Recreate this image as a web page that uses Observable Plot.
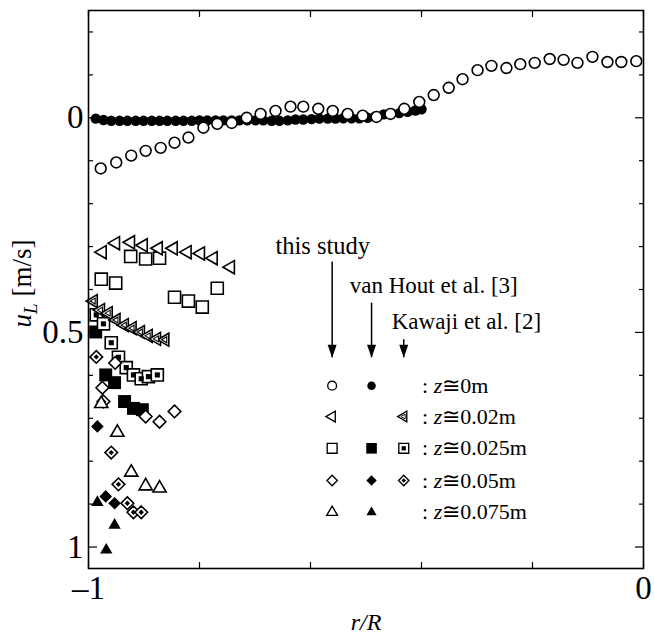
<!DOCTYPE html>
<html><head><meta charset="utf-8">
<script src="https://cdn.jsdelivr.net/npm/d3@7"></script>
<script src="https://cdn.jsdelivr.net/npm/@observablehq/plot@0.6"></script>
<style>body{margin:0;background:#fff}#chart{width:654px;height:639px}</style>
</head><body><div id="chart"></div>
<script>
// ---------- data ----------
const studyZ0_r = [-0.978,-0.950,-0.923,-0.897,-0.870,-0.845,-0.820,-0.793,-0.768,-0.742,-0.715,-0.690,-0.663,-0.636,-0.613,-0.586,-0.560,-0.533,-0.506,-0.481,-0.456,-0.431,-0.404,-0.378,-0.351,-0.326,-0.299,-0.274,-0.247,-0.222,-0.196,-0.169,-0.144,-0.119,-0.092,-0.065,-0.040,-0.013];
const studyZ0_u = [0.118,0.104,0.088,0.077,0.070,0.058,0.046,0.023,0.014,0.012,0.000,-0.009,-0.016,-0.026,-0.026,-0.021,-0.016,-0.009,-0.005,-0.002,-0.009,-0.021,-0.037,-0.053,-0.070,-0.090,-0.111,-0.121,-0.116,-0.125,-0.128,-0.137,-0.135,-0.128,-0.142,-0.130,-0.130,-0.132];
const vanHoutZ0_r = [-0.987,-0.973,-0.959,-0.944,-0.930,-0.915,-0.901,-0.886,-0.872,-0.858,-0.843,-0.829,-0.814,-0.800,-0.786,-0.771,-0.757,-0.742,-0.728,-0.714,-0.699,-0.685,-0.670,-0.656,-0.641,-0.627,-0.613,-0.598,-0.584,-0.569,-0.555,-0.541,-0.526,-0.512,-0.497,-0.483,-0.468,-0.454,-0.440,-0.425,-0.411,-0.400];
const vanHoutZ0_u = [0.002,0.005,0.007,0.007,0.007,0.007,0.007,0.007,0.007,0.007,0.007,0.007,0.007,0.006,0.006,0.006,0.006,0.006,0.006,0.006,0.006,0.006,0.007,0.007,0.006,0.004,0.004,0.003,0.002,0.002,0.002,0.001,0.001,0.001,0.000,-0.003,-0.008,-0.010,-0.011,-0.014,-0.017,-0.020];
const studyZ02_r = [-0.975,-0.951,-0.924,-0.901,-0.874,-0.847,-0.822,-0.798,-0.775,-0.744];
const studyZ02_u = [0.313,0.292,0.290,0.297,0.304,0.304,0.313,0.316,0.327,0.348];
const kawajiZ02_r = [-0.991,-0.978,-0.964,-0.950,-0.935,-0.921,-0.906,-0.892,-0.877,-0.862];
const kawajiZ02_u = [0.427,0.448,0.455,0.471,0.483,0.490,0.499,0.508,0.515,0.517];
const studyZ025_r = [-0.977,-0.951,-0.924,-0.897,-0.872,-0.845,-0.820,-0.795,-0.768];
const studyZ025_u = [0.376,0.385,0.323,0.329,0.327,0.418,0.427,0.441,0.397];
const vanHoutZ025_r = [-0.987,-0.969,-0.953,-0.935,-0.919,-0.903];
const vanHoutZ025_u = [0.499,0.599,0.617,0.661,0.677,0.680];
const kawajiZ025_r = [-0.986,-0.973,-0.959,-0.946,-0.932,-0.919,-0.905,-0.892,-0.876];
const kawajiZ025_u = [0.459,0.480,0.524,0.558,0.582,0.599,0.608,0.603,0.599];
const studyZ05_r = [-0.975,-0.952,-0.897,-0.872,-0.845];
const studyZ05_u = [0.629,0.571,0.696,0.708,0.684];
const vanHoutZ05_r = [-0.984,-0.969,-0.953];
const vanHoutZ05_u = [0.719,0.882,0.898];
const kawajiZ05_r = [-0.986,-0.973,-0.959,-0.946,-0.930,-0.919,-0.905];
const kawajiZ05_u = [0.557,0.661,0.780,0.854,0.898,0.919,0.919];
const studyZ075_r = [-0.977,-0.948,-0.923,-0.897,-0.872];
const studyZ075_u = [0.666,0.733,0.826,0.858,0.863];
const vanHoutZ075_r = [-0.984,-0.968,-0.953];
const vanHoutZ075_u = [0.896,1.007,0.949];

// ticks & labels
const xTickValues = [-1,-0.8,-0.6,-0.4,-0.2,0];
const xLabelValues = [-1,0];
const xTickLabels = ["\u20131","0"];
const yMinorTicks = [-0.2,-0.1,0.1,0.2,0.3,0.4,0.6,0.7,0.8,0.9];
const yMajorTicks = [0,0.5,1];
const yTickLabels = ["0","0.5","1"];
const xAxisLabel = "r/R";
const yAxisLabel = "u_L [m/s]";

// legend text
const sourceNames = ["this study","van Hout et al. [3]","Kawaji et al. [2]"];
const rowLabels = [": z\u22450m",": z\u22450.02m",": z\u22450.025m",": z\u22450.05m",": z\u22450.075m"];

// ---------- layout (legend placement in data units) ----------
const legendCols = [-0.561,-0.490,-0.432];
const legendRows = [0.624,0.696,0.770,0.845,0.919];
const legendTextX = -0.399;
const sourceTextPos = [[-0.578,0.300],[-0.378,0.392],[-0.319,0.476]];
const arrowTop = [0.336,0.432,0.517];
const arrowTip = 0.559;

// ---------- symbols ----------
const triangleLeft = {draw(ctx, size){const y=-Math.sqrt(size/(3*Math.sqrt(3)));ctx.moveTo(2*y,0);ctx.lineTo(-y,Math.sqrt(3)*y);ctx.lineTo(-y,-Math.sqrt(3)*y);ctx.closePath();}};
const arrowHead = {draw(ctx){ctx.moveTo(-4.5,-13);ctx.lineTo(4.5,-13);ctx.lineTo(0,0);ctx.closePath();}};

const open = (symbol, r) => [{symbol, r, fill:"white", stroke:"black", strokeWidth:1.6}];
const filled = (symbol, r) => [{symbol, r, fill:"black", stroke:"none"}];
const kaw = (symbol, r, inner) => [{symbol, r, fill:"white", stroke:"black", strokeWidth:1.6}, inner];

const styles = {
  studyZ0: open("circle",5.4),
  vanHoutZ0: filled("circle",5.2),
  studyZ02: open(triangleLeft,4.9),
  kawajiZ02: kaw(triangleLeft,4.8,{symbol:triangleLeft, r:2.2, fill:"white", stroke:"black", strokeWidth:1.1}),
  studyZ025: open("square",6.8),
  vanHoutZ025: filled("square",7.3),
  kawajiZ025: kaw("square",6.8,{symbol:"square", r:2.9, fill:"black", stroke:"none"}),
  studyZ05: open("diamond2",5.7),
  vanHoutZ05: filled("diamond2",5.7),
  kawajiZ05: kaw("diamond2",5.7,{symbol:"diamond2", r:2.4, fill:"black", stroke:"none"}),
  studyZ075: open("triangle",4.9),
  vanHoutZ075: filled("triangle",4.6)
};

const seriesList = [
  ["vanHoutZ0", vanHoutZ0_r, vanHoutZ0_u, 1, 0],
  ["studyZ0", studyZ0_r, studyZ0_u, 0, 0],
  ["vanHoutZ025", vanHoutZ025_r, vanHoutZ025_u, 1, 2],
  ["kawajiZ025", kawajiZ025_r, kawajiZ025_u, 2, 2],
  ["studyZ025", studyZ025_r, studyZ025_u, 0, 2],
  ["kawajiZ02", kawajiZ02_r, kawajiZ02_u, 2, 1],
  ["studyZ02", studyZ02_r, studyZ02_u, 0, 1],
  ["studyZ05", studyZ05_r, studyZ05_u, 0, 3],
  ["vanHoutZ05", vanHoutZ05_r, vanHoutZ05_u, 1, 3],
  ["kawajiZ05", kawajiZ05_r, kawajiZ05_u, 2, 3],
  ["studyZ075", studyZ075_r, studyZ075_u, 0, 4],
  ["vanHoutZ075", vanHoutZ075_r, vanHoutZ075_u, 1, 4]
];

const dataMarks = [];
const legendMarks = [];
for (const [key, rs, us, col, row] of seriesList) {
  const data = rs.map((r,i)=>({r, u:us[i]}));
  for (const st of styles[key]) {
    dataMarks.push(Plot.dot(data, {x:"r", y:"u", ...st}));
    legendMarks.push(Plot.dot([{r:legendCols[col], u:legendRows[row]}], {x:"r", y:"u", ...st, r: st.r*0.82, strokeWidth: st.strokeWidth ? st.strokeWidth*0.85 : undefined}));
  }
}

const serif = "'Liberation Serif','Times New Roman',serif";
const arrows = legendCols.map((x,i)=>({x, y1:arrowTop[i], y2:arrowTip}));
const sources = sourceNames.map((t,i)=>({t, x:sourceTextPos[i][0], y:sourceTextPos[i][1], fs: i === 0 ? 24.5 : 23}));
const rowsText = rowLabels.map((t,i)=>({t, x:legendTextX, y:legendRows[i]}));

const chart = Plot.plot({
  width:654, height:639,
  marginLeft:88, marginRight:11, marginTop:10, marginBottom:71,
  x:{domain:[-1,0], label:null},
  y:{domain:[-0.25,1.05], reverse:true, label:null},
  style:{fontFamily:serif, fontSize:"33px", background:"white", color:"black"},
  marks:[
    Plot.axisX(xTickValues, {anchor:"bottom", tickSize:-6, tickFormat:()=>"", label:null, strokeWidth:1.2}),
    Plot.axisX(xTickValues, {anchor:"top", tickSize:-6, tickFormat:()=>"", label:null, strokeWidth:1.2}),
    Plot.axisX(xLabelValues, {anchor:"bottom", tickSize:0, tickPadding:7, tickFormat:d=>xTickLabels[xLabelValues.indexOf(d)], label:null}),
    Plot.axisY(yMinorTicks, {anchor:"left", tickSize:-5, tickFormat:()=>"", label:null, strokeWidth:1.2}),
    Plot.axisY(yMinorTicks, {anchor:"right", tickSize:-5, tickFormat:()=>"", label:null, strokeWidth:1.2}),
    Plot.axisY(yMajorTicks, {anchor:"left", tickSize:-9, tickFormat:()=>"", label:null, strokeWidth:1.2}),
    Plot.axisY(yMajorTicks, {anchor:"right", tickSize:-9, tickFormat:()=>"", label:null, strokeWidth:1.2}),
    Plot.axisY(yMajorTicks, {anchor:"left", tickSize:0, tickPadding:5, tickFormat:d=>yTickLabels[yMajorTicks.indexOf(d)], label:null}),
    ...dataMarks,
    Plot.text(sources, {x:"x", y:"y", text:"t", fontSize:"fs", textAnchor:"middle", lineAnchor:"middle"}),
    Plot.ruleX(arrows, {x:"x", y1:"y1", y2:"y2", stroke:"black", strokeWidth:1.5}),
    Plot.dot(arrows, {x:"x", y:"y2", symbol:arrowHead, fill:"black", stroke:"none"}),
    ...legendMarks,
    Plot.text(rowsText, {x:"x", y:"y", text:"t", fontSize:22, textAnchor:"start", lineAnchor:"middle"}),
    Plot.text([xAxisLabel], {frameAnchor:"bottom", dy:54, fontSize:24, fontStyle:"italic", lineAnchor:"middle"}),
    Plot.text([yAxisLabel], {frameAnchor:"left", dx:-66, dy:-6, rotate:-90, fontSize:27, lineAnchor:"middle", textAnchor:"middle"}),
    Plot.frame({stroke:"black", strokeWidth:1.6})
  ]
});
document.getElementById("chart").appendChild(chart);

// rich text: italic z and u with subscript L
d3.select(chart).selectAll("text").each(function(){
  const t = this.textContent;
  const sel = d3.select(this);
  if (t.startsWith(": z")) {
    sel.text(null);
    sel.append("tspan").text(": ");
    sel.append("tspan").attr("font-style","italic").text("z");
    sel.append("tspan").text(t.slice(3));
  } else if (t === yAxisLabel) {
    sel.text(null);
    sel.append("tspan").attr("font-style","italic").text("u");
    sel.append("tspan").attr("font-style","italic").attr("font-size","19px").attr("dy","6").text("L");
    sel.append("tspan").attr("dy","-6").text(" [m/s]");
  }
});
</script>
</body></html>
